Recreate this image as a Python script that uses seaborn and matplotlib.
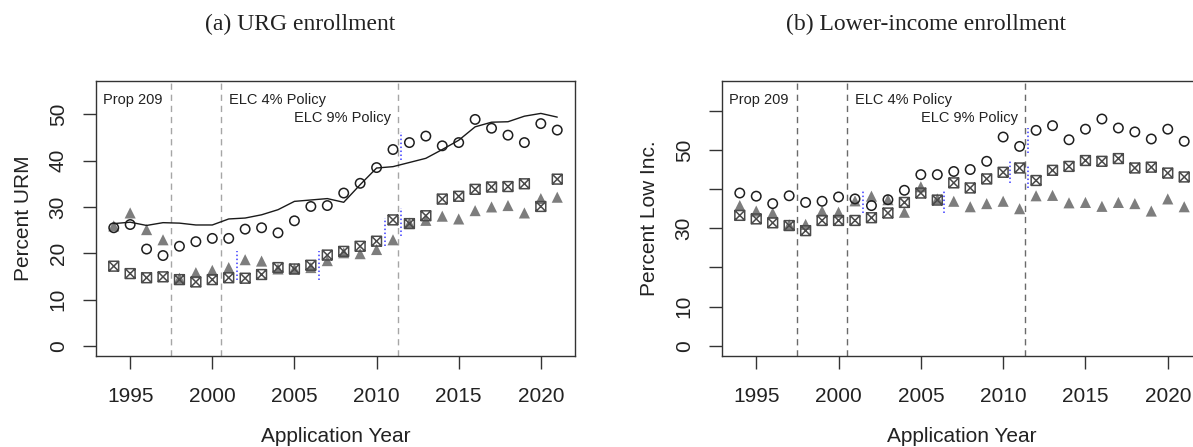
import numpy as np
import pandas as pd
import matplotlib
matplotlib.use("Agg")
import matplotlib.pyplot as plt
from matplotlib.path import Path
from matplotlib.transforms import blended_transform_factory
import seaborn as sns

# ---------------- data ----------------
years = list(range(1994, 2022))

urg_circle = [25.5, 26.2, 20.9, 19.5, 21.5, 22.5, 23.2, 23.2, 25.2, 25.5, 24.4, 27.0, 30.1, 30.3,
              33.0, 35.1, 38.5, 42.4, 43.9, 45.3, 43.2, 43.9, 48.9, 47.0, 45.5, 43.9, 48.0, 46.6]
urg_square = [17.2, 15.6, 14.7, 14.9, 14.3, 13.8, 14.3, 14.7, 14.6, 15.4, 16.9, 16.6, 17.4, 19.6,
              20.4, 21.5, 22.6, 27.2, 26.4, 28.1, 31.7, 32.3, 33.8, 34.3, 34.4, 35.0, 30.1, 36.0]
urg_triangle = [25.9, 28.7, 25.1, 22.9, 14.6, 15.8, 16.3, 16.9, 18.6, 18.3, 16.6, 16.6, 16.9, 18.4,
                20.1, 19.9, 20.8, 22.9, 26.5, 27.1, 28.0, 27.4, 29.2, 30.0, 30.3, 28.7, 31.8, 32.1]
urg_line = [26.4, 26.7, 26.0, 26.6, 26.5, 26.1, 26.1, 27.4, 27.6, 28.3, 29.4, 31.2, 31.5, 31.8,
            31.0, 34.8, 38.4, 38.7, 39.6, 40.5, 42.4, 44.4, 47.3, 48.3, 48.4, 49.6, 50.2, 49.4]

low_circle = [39.0, 38.2, 36.3, 38.3, 36.6, 36.9, 38.0, 37.5, 35.8, 37.3, 39.7, 43.7, 43.7, 44.5,
              45.0, 47.1, 53.3, 50.9, 55.0, 56.2, 52.6, 55.3, 57.9, 55.6, 54.6, 52.8, 55.3, 52.2]
low_square = [33.3, 32.4, 31.4, 30.7, 29.4, 32.0, 32.0, 32.0, 32.7, 33.9, 36.6, 39.0, 37.2, 41.6,
              40.3, 42.6, 44.3, 45.4, 42.2, 44.8, 45.8, 47.3, 47.1, 47.8, 45.4, 45.6, 44.1, 43.1]
low_triangle = [35.8, 34.4, 33.9, 30.9, 31.0, 34.4, 34.1, 37.0, 38.2, 37.3, 34.1, 40.6, 37.5, 36.9,
                35.5, 36.3, 36.9, 35.0, 38.3, 38.4, 36.5, 36.6, 35.6, 36.6, 36.3, 34.4, 37.5, 35.5]

policy_years = [1997.5, 2000.5, 2011.3]
policy_labels = ["Prop 209", "ELC 4% Policy", "ELC 9% Policy"]

urg_seg_x = [2001.5, 2006.5, 2010.5, 2011.5, 2011.5]
urg_seg_lo = [14.3, 14.3, 21.5, 23.7, 40.1]
urg_seg_hi = [20.4, 20.4, 27.6, 29.8, 46.2]

low_seg_x = [2001.5, 2006.4, 2010.4, 2011.5, 2011.5]
low_seg_lo = [33.9, 33.9, 41.6, 40.3, 49.2]
low_seg_hi = [39.7, 39.7, 47.1, 46.2, 55.5]

x_ticks = [1995, 2000, 2005, 2010, 2015, 2020]
urg_yticks = [0, 10, 20, 30, 40, 50]
urg_ylabels = ["0", "10", "20", "30", "40", "50"]
low_yticks = [0, 10, 20, 30, 40, 50, 60]
low_ylabels = ["0", "10", "", "30", "", "50", ""]

# ---------------- style ----------------
sns.set_style("white")
plt.rcParams["font.family"] = ["Liberation Sans", "DejaVu Sans"]

sq_verts = [(-1, -1), (1, -1), (1, 1), (-1, 1), (-1, -1),
            (-1, -1), (1, 1), (-1, 1), (1, -1)]
sq_codes = [Path.MOVETO, Path.LINETO, Path.LINETO, Path.LINETO, Path.CLOSEPOLY,
            Path.MOVETO, Path.LINETO, Path.MOVETO, Path.LINETO]
box_x = Path(sq_verts, sq_codes)

fig = plt.figure(figsize=(11.93, 4.47), dpi=100)
ax1 = fig.add_axes([96 / 1193, 91 / 447, 479 / 1193, 275 / 447])
ax2 = fig.add_axes([722 / 1193, 91 / 447, 480 / 1193, 275 / 447])


def draw_panel(ax, circ, sq, tri, line, seg_x, seg_lo, seg_hi, ylim, yticks, ylabels,
               ylabel, dash_color):
    df = pd.DataFrame({"year": years, "circle": circ, "square": sq, "triangle": tri})
    for xv in policy_years:
        ax.axvline(xv, color=dash_color, lw=1.0, ls=(0, (4.5, 3.5)), zorder=1)
    ax.vlines(seg_x, seg_lo, seg_hi, colors="#3b3bff", lw=1.1, linestyles=(0, (1, 1.6)), zorder=2)
    sns.scatterplot(data=df, x="year", y="triangle", ax=ax, marker="^", s=64,
                    color="#7d7d7d", edgecolor="none", linewidth=0, zorder=3)
    sns.scatterplot(data=df, x="year", y="square", ax=ax, marker=box_x, s=50,
                    facecolor="none", edgecolor="#4a4a4a", linewidth=1.1, zorder=4)
    sns.scatterplot(data=df, x="year", y="circle", ax=ax, marker="o", s=46,
                    facecolor="none", edgecolor="#1e1e1e", linewidth=1.1, zorder=5)
    if line is not None:
        ldf = pd.DataFrame({"year": years, "val": line})
        sns.lineplot(data=ldf, x="year", y="val", ax=ax, color="#1a1a1a", lw=1.0, zorder=6)

    ax.set_xlim(1992.92, 2022.08)
    ax.set_ylim(*ylim)
    ax.set_xticks(x_ticks)
    ax.set_xticklabels([str(t) for t in x_ticks])
    ax.set_yticks(yticks)
    ax.set_yticklabels(ylabels)
    ax.tick_params(axis="both", direction="out", length=9.4, width=1.0, color="#333333",
                   labelsize=15, labelcolor="#222222", bottom=True, left=True)
    ax.tick_params(axis="x", pad=13)
    ax.tick_params(axis="y", pad=11)
    for lab in ax.get_yticklabels():
        lab.set_rotation(90)
        lab.set_va("center")
    for sp in ax.spines.values():
        sp.set_visible(True)
        sp.set_color("#333333")
        sp.set_linewidth(1.0)
    ax.set_xlabel("Application Year", fontsize=15, color="#222222")
    ax.set_ylabel(ylabel, fontsize=15, color="#222222")
    ax.xaxis.set_label_coords(0.5, -0.257)
    ax.yaxis.set_label_coords(-0.131, 0.5)

    tr = blended_transform_factory(ax.transData, ax.transAxes)
    ax.text(1993.35, 0.93, policy_labels[0], transform=tr, ha="left", va="center",
            fontsize=10.5, color="#222222")
    ax.text(2001.0, 0.93, policy_labels[1], transform=tr, ha="left", va="center",
            fontsize=10.5, color="#222222")
    ax.text(2010.9, 0.866, policy_labels[2], transform=tr, ha="right", va="center",
            fontsize=10.5, color="#222222")


draw_panel(ax1, urg_circle, urg_square, urg_triangle, urg_line, urg_seg_x, urg_seg_lo,
           urg_seg_hi, (-2.2, 57.2), urg_yticks, urg_ylabels, "Percent URM", "#a6a6a6")
draw_panel(ax2, low_circle, low_square, low_triangle, None, low_seg_x, low_seg_lo,
           low_seg_hi, (-2.6, 67.6), low_yticks, low_ylabels, "Percent Low Inc.", "#6a6a6a")

fig.text(300 / 1193, 1 - 24 / 447, "(a) URG enrollment", ha="center", va="center",
         fontsize=17, family=["Liberation Serif", "DejaVu Serif"], color="#222222")
fig.text(926 / 1193, 1 - 24 / 447, "(b) Lower-income enrollment", ha="center", va="center",
         fontsize=17, family=["Liberation Serif", "DejaVu Serif"], color="#222222")

fig.savefig("out.png", dpi=100)
